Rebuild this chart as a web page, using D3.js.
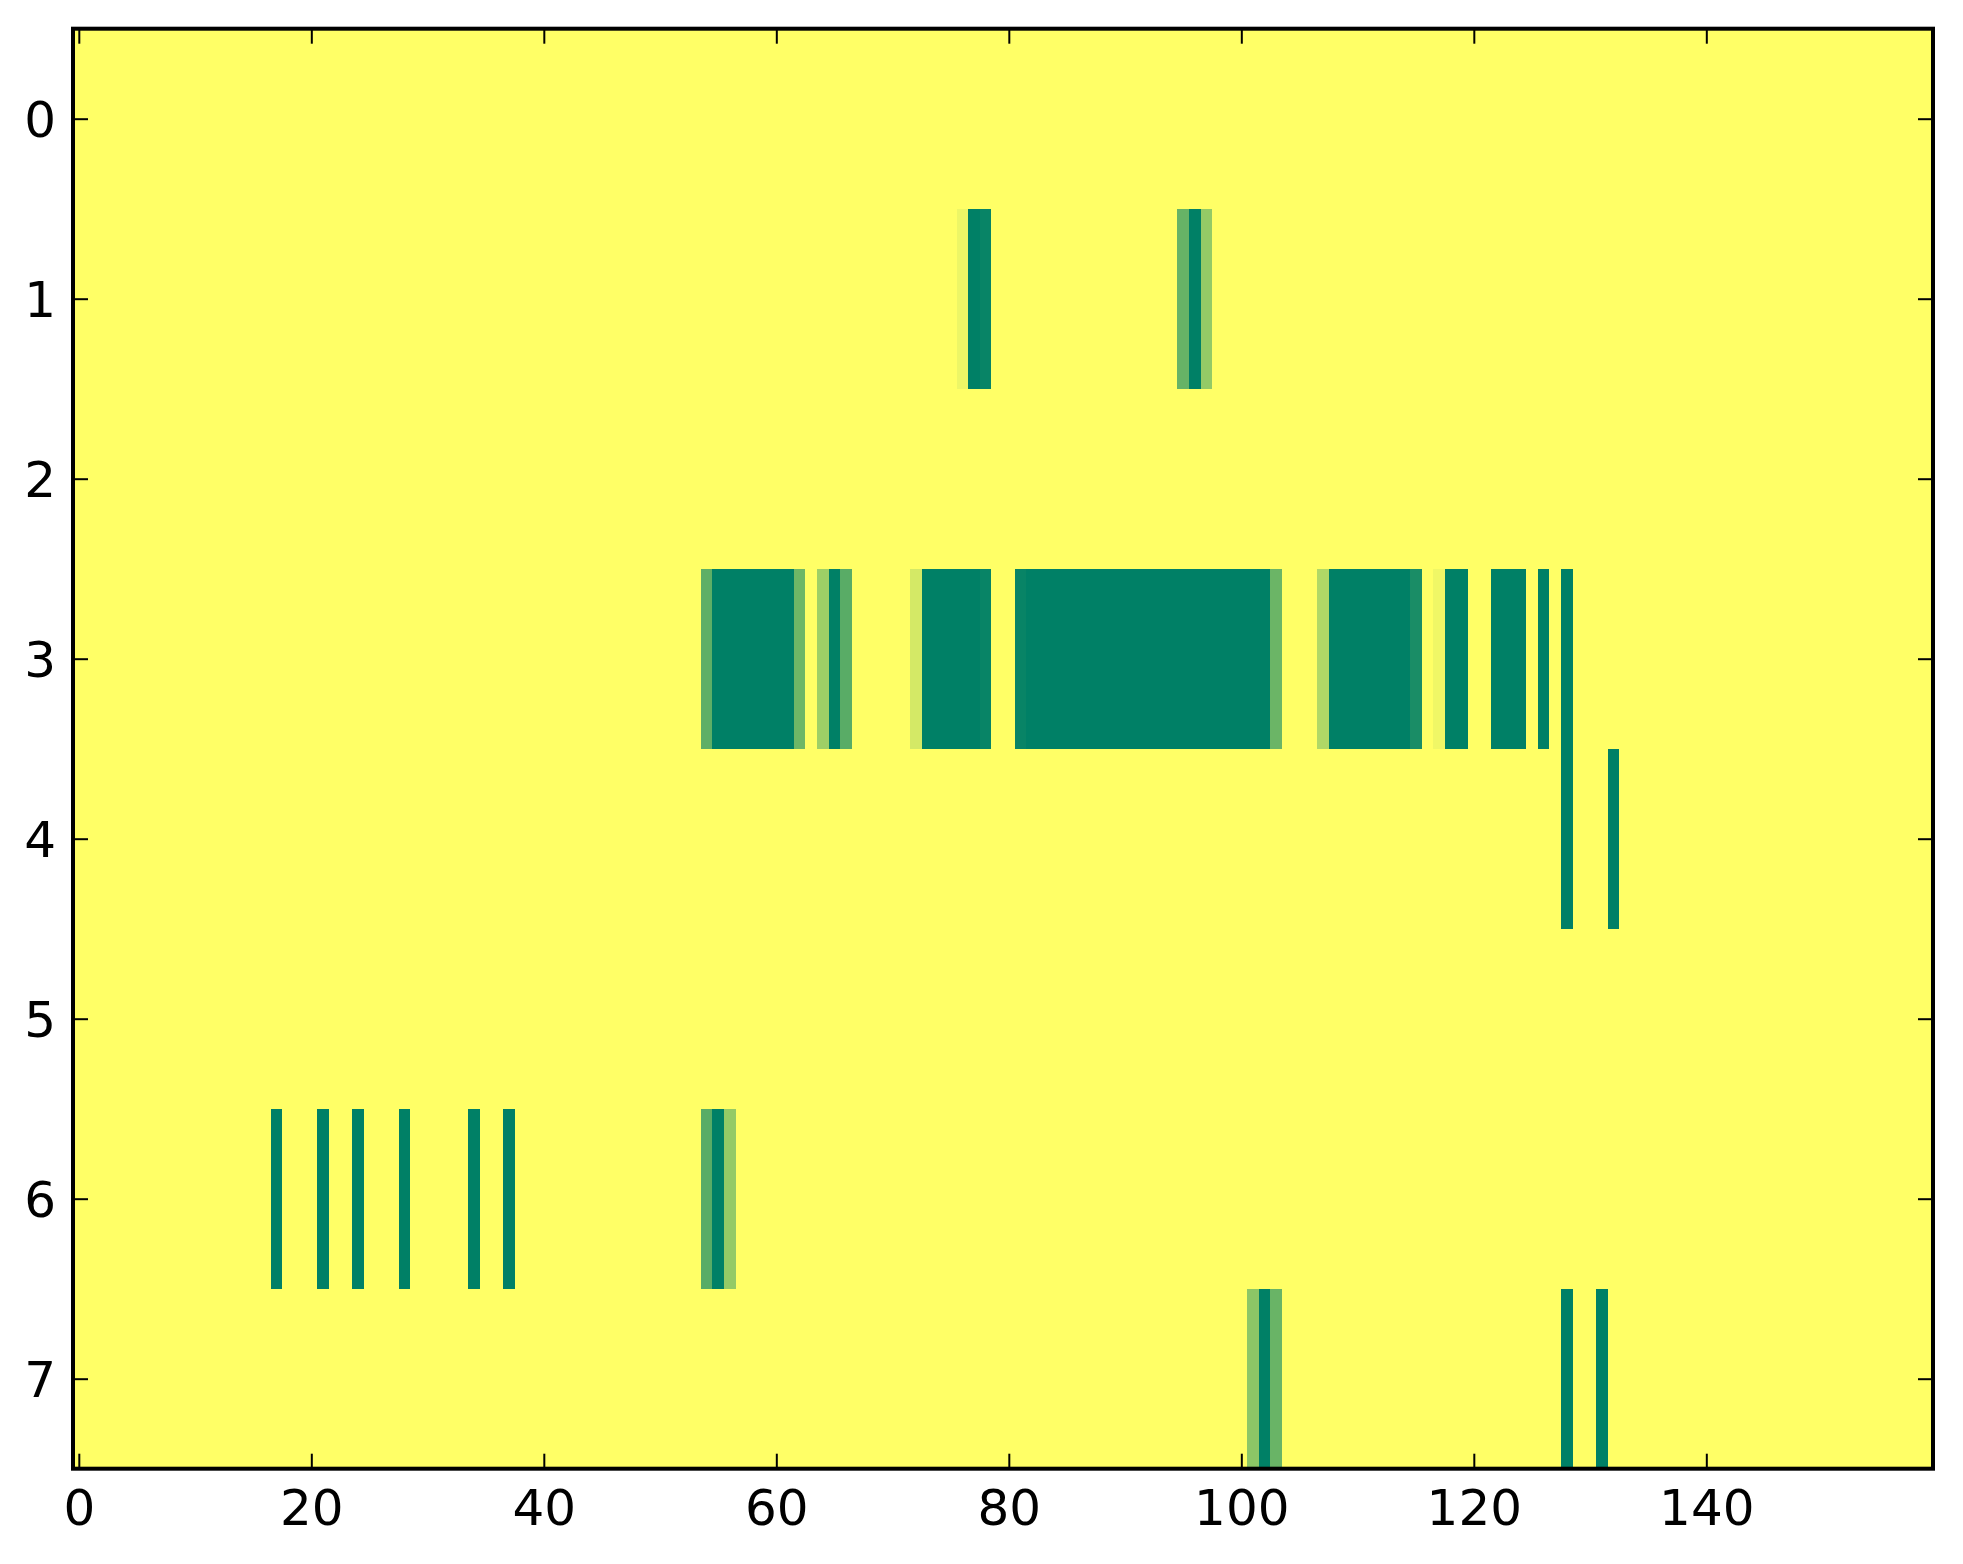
<!DOCTYPE html>
<html>
<head>
<meta charset="utf-8">
<script src="https://cdn.jsdelivr.net/npm/d3@7"></script>
<style>
  html, body { margin: 0; padding: 0; background: #ffffff; }
  svg { display: block; }
  .tick text { font-family: "DejaVu Sans", sans-serif; font-size: 50px; fill: #000; }
</style>
</head>
<body>
<script>
// ---- data (sparse: [column, value]; all other cells are 0) ----
const nCols = 160;
const rowLabels = [0, 1, 2, 3, 4, 5, 6, 7];
const xTickValues = [0, 20, 40, 60, 80, 100, 120, 140];

const row0 = [];
const row1 = [[76, 0.07], [77, 1], [78, 0.97], [95, 0.6], [96, 1], [97, 0.42]];
const row2 = [];
const row3 = [
  [54, 0.63], [55, 1], [56, 1], [57, 1], [58, 1], [59, 1], [60, 1], [61, 1], [62, 0.57],
  [64, 0.38], [65, 1], [66, 0.65],
  [72, 0.17], [73, 1], [74, 1], [75, 1], [76, 1], [77, 1], [78, 0.97],
  [81, 0.97], [82, 1], [83, 1], [84, 1], [85, 1], [86, 1], [87, 1], [88, 1], [89, 1],
  [90, 1], [91, 1], [92, 1], [93, 1], [94, 1], [95, 1], [96, 1], [97, 1], [98, 1],
  [99, 1], [100, 1], [101, 1], [102, 1], [103, 0.58],
  [107, 0.31], [108, 1], [109, 1], [110, 1], [111, 1], [112, 1], [113, 1], [114, 1], [115, 0.9],
  [117, 0.06], [118, 1], [119, 1],
  [122, 1], [123, 1], [124, 1],
  [126, 1], [128, 1]
];
const row4 = [[128, 1], [132, 1]];
const row5 = [];
const row6 = [[17, 1], [21, 1], [24, 1], [28, 1], [34, 1], [37, 1], [54, 0.65], [55, 1], [56, 0.42]];
const row7 = [[101, 0.45], [102, 1], [103, 0.59], [128, 1], [131, 1]];

const rows = [row0, row1, row2, row3, row4, row5, row6, row7];

(function () {
  // ---- build full matrix ----
  const cells = [];
  rows.forEach((r, ri) => {
    const vals = new Array(nCols).fill(0);
    r.forEach(([c, v]) => { vals[c] = v; });
    vals.forEach((v, c) => cells.push({ row: rowLabels[ri], col: c, v }));
  });

  // ---- layout ----
  const W = 1963, H = 1564;
  const pLeft = 73, pRight = 1933, pTop = 28.7, pBottom = 1468.7;

  const svg = d3.select("body").append("svg").attr("width", W).attr("height", H);

  const x = d3.scaleLinear().domain([-0.5, nCols - 0.5]).range([pLeft, pRight]);
  const y = d3.scaleLinear().domain([-0.5, rowLabels.length - 0.5]).range([pTop, pBottom]);
  // summer_r colormap: 0 -> yellow, 1 -> green
  const color = d3.scaleLinear().domain([0, 1])
    .range(["rgb(255,255,102)", "rgb(0,128,102)"])
    .interpolate(d3.interpolateRgb);

  svg.append("g")
    .attr("shape-rendering", "crispEdges")
    .selectAll("rect")
    .data(cells)
    .join("rect")
    .attr("x", d => x(d.col - 0.5))
    .attr("y", d => y(d.row - 0.5))
    .attr("width", d => x(d.col + 0.5) - x(d.col - 0.5) + 0.5)
    .attr("height", d => y(d.row + 0.5) - y(d.row - 0.5) + 0.5)
    .attr("fill", d => color(d.v));

  const tickLen = 15;

  function styleAxis(g) {
    g.select(".domain").remove();
    g.selectAll(".tick line").attr("stroke", "#000").attr("stroke-width", 2);
  }

  // bottom
  svg.append("g")
    .attr("transform", `translate(0,${pBottom})`)
    .call(d3.axisBottom(x).tickValues(xTickValues).tickFormat(d3.format("d"))
      .tickSizeInner(-tickLen).tickSizeOuter(0).tickPadding(21))
    .call(styleAxis);
  // top (ticks only)
  svg.append("g")
    .attr("transform", `translate(0,${pTop})`)
    .call(d3.axisTop(x).tickValues(xTickValues).tickFormat("")
      .tickSizeInner(-tickLen).tickSizeOuter(0))
    .call(styleAxis);
  // left
  const gl = svg.append("g")
    .attr("transform", `translate(${pLeft},0)`)
    .call(d3.axisLeft(y).tickValues(rowLabels).tickFormat(d3.format("d"))
      .tickSizeInner(-tickLen).tickSizeOuter(0).tickPadding(17))
    .call(styleAxis);
  gl.selectAll(".tick text").attr("dy", "0.36em");
  // right (ticks only)
  svg.append("g")
    .attr("transform", `translate(${pRight},0)`)
    .call(d3.axisRight(y).tickValues(rowLabels).tickFormat("")
      .tickSizeInner(-tickLen).tickSizeOuter(0))
    .call(styleAxis);

  // frame
  svg.append("rect")
    .attr("x", pLeft).attr("y", pTop)
    .attr("width", pRight - pLeft).attr("height", pBottom - pTop)
    .attr("fill", "none").attr("stroke", "#000").attr("stroke-width", 4);
})();
</script>
</body>
</html>
